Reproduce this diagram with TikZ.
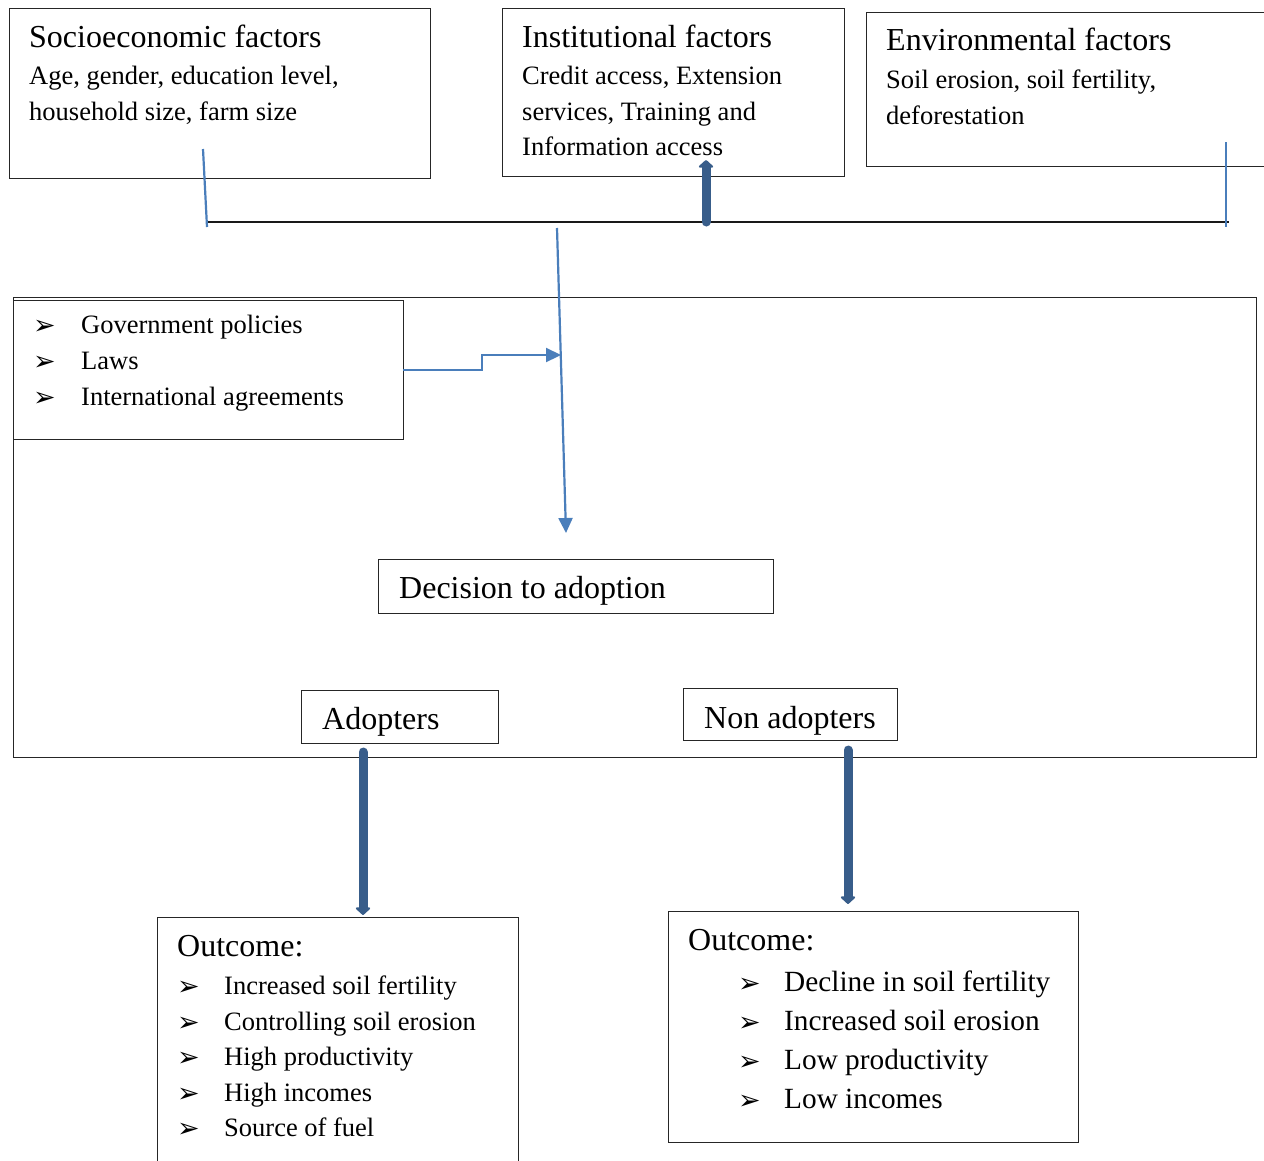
\documentclass[tikz,border=0pt]{standalone}
\usepackage{fontspec}
\setmainfont{Liberation Serif}
\newfontfamily\dingfont{DejaVu Sans}
\usetikzlibrary{arrows.meta}
\definecolor{thinblue}{RGB}{74,126,187}
\definecolor{thickblue}{RGB}{56,93,138}
\newcommand\bul{{\dingfont\fontsize{27}{27}\selectfont ➢}}
\begin{document}
\begin{tikzpicture}[x=1pt,y=-1pt,
  box/.style={draw=black!85, line width=1.3pt, anchor=north west, inner sep=0pt},
  ttl/.style={anchor=base west, inner sep=0pt, font=\fontsize{32}{36}\selectfont},
  sml/.style={anchor=base west, inner sep=0pt, font=\fontsize{26.5}{30}\selectfont},
  mid/.style={anchor=base west, inner sep=0pt, font=\fontsize{29.3}{33}\selectfont},
  bl/.style={anchor=base west, inner sep=0pt},
  thin/.style={draw=thinblue, line width=2.2pt},
  thick/.style={draw=thickblue, line width=9pt, line cap=round, -{Triangle[round,width=17pt,length=8pt]}}
]
\useasboundingbox (0,0) rectangle (1264,1160);
\clip (0,0) rectangle (1264,1160);
% top boxes
\node[box, minimum width=421pt, minimum height=170pt] (socio) at (9,8) {};
\node[box, minimum width=342pt, minimum height=168pt] (inst) at (502,8) {};
\node[box, minimum width=420pt, minimum height=154pt] (env) at (866,12) {};
\node[ttl] (s1) at (29,47) {Socioeconomic factors};
\node[sml] (s2) at (29,84) {Age, gender, education level,};
\node[sml] (s3) at (29,120) {household size, farm size};
\node[ttl] (i1) at (522,47) {Institutional factors};
\node[sml] (i2) at (522,84) {Credit access, Extension};
\node[sml] (i3) at (522,120) {services, Training and};
\node[sml] (i4) at (522,155) {Information access};
\node[ttl] (e1) at (886,50) {Environmental factors};
\node[sml] (e2) at (886,88) {Soil erosion, soil fertility,};
\node[sml] (e3) at (886,124) {deforestation};
% horizontal bar
\coordinate (hL) at (208,222);
\coordinate (hR) at (1229,222);
\draw[black!90, line width=1.6pt] (hL) -- (hR);
\coordinate (sa) at (203,149);
\coordinate (sb) at (207,227);
\draw[thin] (sa) -- (sb);
\coordinate (ea) at (1226,142);
\coordinate (eb) at (1226,227);
\draw[thin] (ea) -- (eb);
\coordinate (ia) at (706,222);
\coordinate (ib) at (706,160);
\draw[thick] (ia) -- (ib);
% big frame
\node[box, minimum width=1243pt, minimum height=460pt] (frame) at (13,297) {};
\node[box, minimum width=390pt, minimum height=139pt, fill=white] (gov) at (13,300) {};
\node[bl] (gb1) at (33,334) {\bul};
\node[sml] (g1) at (81,333) {Government policies};
\node[bl] (gb2) at (33,370) {\bul};
\node[sml] (g2) at (81,369) {Laws};
\node[bl] (gb3) at (33,406) {\bul};
\node[sml] (g3) at (81,405) {International agreements};
% vertical thin arrow
\coordinate (va) at (557,228);
\coordinate (vb) at (566,533);
\draw[thin, -{Triangle[width=14pt,length=15pt]}] (va) -- (vb);
\coordinate (gout) at (403,370);
\coordinate (gin) at (561,355);
\draw[thin, -{Triangle[width=14pt,length=15pt]}] (gout) -- (482,370) -- (482,355) -- (gin);
% decision
\node[box, minimum width=395pt, minimum height=54pt] (dec) at (378,559) {};
\node[ttl] (dt) at (399,598) {Decision to adoption};
\node[box, minimum width=197pt, minimum height=53pt] (adop) at (301,690) {};
\node[ttl] (at) at (322,729) {Adopters};
\node[box, minimum width=214pt, minimum height=52pt] (nonad) at (683,688) {};
\node[ttl] (nt) at (704,728) {Non adopters};
% thick arrows down
\coordinate (a1) at (363,752);
\coordinate (a2) at (363,915);
\draw[thick] (a1) -- (a2);
\coordinate (n1) at (848,750);
\coordinate (n2) at (848,904);
\draw[thick] (n1) -- (n2);
% outcome boxes
\node[box, minimum width=361pt, minimum height=260pt] (oL) at (157,917) {};
\node[ttl] (oLt) at (177,956) {Outcome:};
\node[bl] (lb1) at (177,995) {\bul};
\node[sml] (l1) at (224,994) {Increased soil fertility};
\node[bl] (lb2) at (177,1031) {\bul};
\node[sml] (l2) at (224,1030) {Controlling soil erosion};
\node[bl] (lb3) at (177,1066) {\bul};
\node[sml] (l3) at (224,1065) {High productivity};
\node[bl] (lb4) at (177,1102) {\bul};
\node[sml] (l4) at (224,1101) {High incomes};
\node[bl] (lb5) at (177,1137) {\bul};
\node[sml] (l5) at (224,1136) {Source of fuel};
\node[box, minimum width=410pt, minimum height=231pt] (oR) at (668,911) {};
\node[ttl] (oRt) at (688,950) {Outcome:};
\node[bl] (rb1) at (738,992) {\bul};
\node[mid] (r1) at (784,991) {Decline in soil fertility};
\node[bl] (rb2) at (738,1031) {\bul};
\node[mid] (r2) at (784,1030) {Increased soil erosion};
\node[bl] (rb3) at (738,1070) {\bul};
\node[mid] (r3) at (784,1069) {Low productivity};
\node[bl] (rb4) at (738,1109) {\bul};
\node[mid] (r4) at (784,1108) {Low incomes};
\end{tikzpicture}
\end{document}
